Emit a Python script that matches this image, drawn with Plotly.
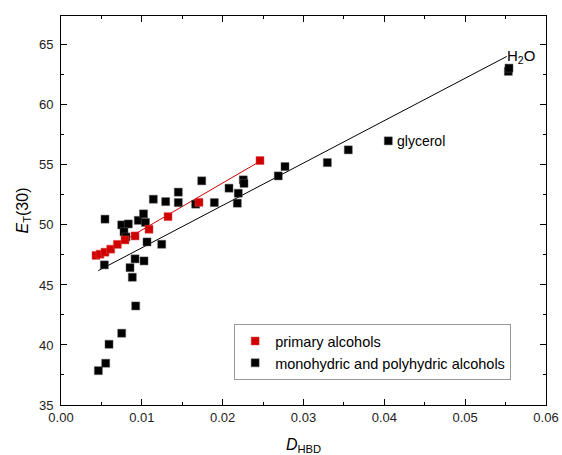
import plotly.graph_objects as go

# ---- data ----
primary_x = [0.00433, 0.00483, 0.00544, 0.00615, 0.00697, 0.00792, 0.00916, 0.01089, 0.01324, 0.01707, 0.02462]
primary_y = [47.46, 47.56, 47.73, 47.98, 48.38, 48.75, 49.08, 49.64, 50.69, 51.88, 55.36]

alcohol_x = [0.00462, 0.00553, 0.00594, 0.00751, 0.00924, 0.00882, 0.00854, 0.00536, 0.00916, 0.01027,
             0.01064, 0.01246, 0.00751, 0.00833, 0.00779, 0.00804, 0.00544, 0.00956, 0.01021, 0.01045,
             0.01142, 0.01295, 0.01451, 0.01451, 0.01741, 0.01666, 0.01897, 0.02078, 0.02255, 0.02264,
             0.02193, 0.02181, 0.02688, 0.02771, 0.03295, 0.03554, 0.04049, 0.05534, 0.05542]
alcohol_y = [37.86, 38.48, 40.06, 40.98, 43.25, 45.64, 46.44, 46.67, 47.17, 47.00,
             48.58, 48.39, 50.00, 50.08, 49.42, 49.00, 50.48, 50.38, 50.92, 50.21,
             52.14, 51.94, 52.73, 51.86, 53.67, 51.73, 51.86, 53.06, 53.75, 53.46,
             52.64, 51.81, 54.08, 54.86, 55.19, 56.25, 57.00, 62.79, 63.06]

primary_fit_x = [0.00433, 0.02462]
primary_fit_y = [47.35, 55.30]
alcohol_fit_x = [0.00461, 0.05514]
alcohol_fit_y = [46.19, 64.03]

x_ticks = [0.00, 0.01, 0.02, 0.03, 0.04, 0.05, 0.06]
x_tick_labels = ["0.00", "0.01", "0.02", "0.03", "0.04", "0.05", "0.06"]
y_ticks = [35, 40, 45, 50, 55, 60, 65]

RED = "#cf0000"
FONT = "Liberation Sans, Arial"

fig = go.Figure()
fig.add_trace(go.Scatter(x=primary_fit_x, y=primary_fit_y, mode="lines",
                         line=dict(color=RED, width=1), showlegend=False, hoverinfo="skip"))
fig.add_trace(go.Scatter(x=alcohol_fit_x, y=alcohol_fit_y, mode="lines",
                         line=dict(color="#000000", width=1), showlegend=False, hoverinfo="skip"))
fig.add_trace(go.Scatter(x=alcohol_x, y=alcohol_y, mode="markers",
                         name="monohydric and polyhydric alcohols",
                         marker=dict(symbol="square", size=8, color="#000000",
                                     line=dict(color="#555555", width=0.5))))
fig.add_trace(go.Scatter(x=primary_x, y=primary_y, mode="markers",
                         name="primary alcohols",
                         marker=dict(symbol="square", size=8, color=RED,
                                     line=dict(color="#e05050", width=0.5))))

fig.add_annotation(x=0.0413, y=57.0, text="glycerol", showarrow=False, xanchor="left",
                   yanchor="middle", font=dict(family=FONT, size=14, color="#000000"))
fig.add_annotation(x=0.0549, y=64.0, text="H<sub>2</sub>O", showarrow=False, xanchor="left",
                   yanchor="middle", font=dict(family=FONT, size=15, color="#000000"))

axis_common = dict(showline=True, linecolor="#000000", linewidth=1, mirror="allticks",
                   ticks="inside", ticklen=6, tickwidth=1, tickcolor="#000000",
                   showgrid=False, zeroline=False,
                   tickfont=dict(family=FONT, size=13, color="#222222"))

fig.update_xaxes(range=[0, 0.06], tickvals=x_ticks, ticktext=x_tick_labels,
                 minor=dict(ticks="inside", ticklen=3, dtick=0.005, tick0=0, tickcolor="#000000", showgrid=False),
                 title=dict(text="<i>D</i><sub>HBD</sub>", font=dict(family=FONT, size=16, color="#000000"),
                            standoff=16),
                 **axis_common)
fig.update_yaxes(range=[35, 67.4], tickvals=y_ticks, ticklabelstandoff=4,
                 minor=dict(ticks="inside", ticklen=3, dtick=2.5, tick0=35, tickcolor="#000000", showgrid=False),
                 title=dict(text="<i>E</i><sub>T</sub>(30)", font=dict(family=FONT, size=16, color="#000000"),
                            standoff=6),
                 **axis_common)

fig.update_layout(
    width=562, height=455,
    margin=dict(l=61, r=16, t=16, b=50, autoexpand=False),
    plot_bgcolor="#ffffff", paper_bgcolor="#ffffff",
    font=dict(family=FONT, color="#000000"),
    legend=dict(x=0.357, y=0.208, xanchor="left", yanchor="top",
                bordercolor="#999999", borderwidth=1, bgcolor="#ffffff",
                traceorder="reversed", itemwidth=30, tracegroupgap=0,
                font=dict(family=FONT, size=14.5, color="#000000")),
    showlegend=True,
)

fig.write_html("out.html", config={"displayModeBar": False},
               post_script="document.body.style.margin='0';document.body.style.overflow='hidden';")
